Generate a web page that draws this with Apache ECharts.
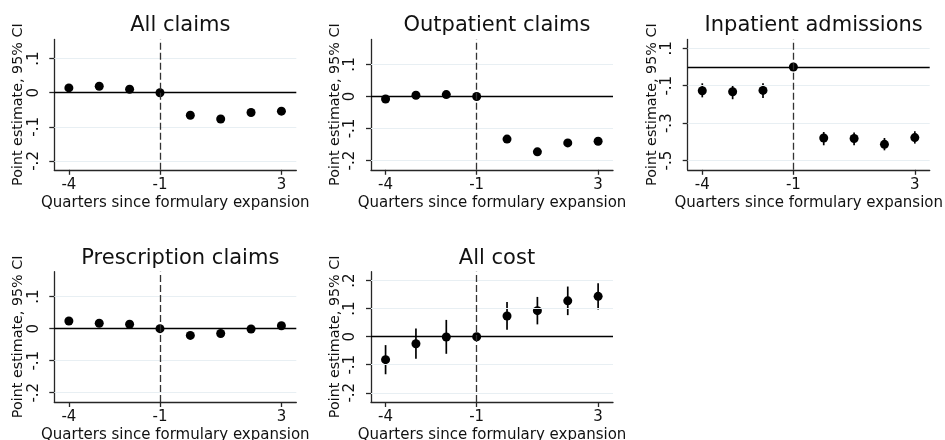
<!DOCTYPE html>
<html>
<head>
<meta charset="utf-8">
<script src="https://cdn.jsdelivr.net/npm/echarts@6/dist/echarts.min.js"></script>
<style>
  html, body { margin: 0; padding: 0; background: #fff; }
  #chart { width: 945px; height: 440px; }
</style>
</head>
<body>
<div id="chart"></div>
<script>
// Event-study estimates by quarter relative to the formulary expansion
const quarters = [-4, -3, -2, -1, 0, 1, 2, 3];
const xTickValues = [-4, -1, 3];

// All claims
const allClaimsEst = [0.014, 0.019, 0.010, 0, -0.066, -0.077, -0.058, -0.054];
const allClaimsLo  = [0.008, 0.013, 0.004, 0, -0.072, -0.083, -0.064, -0.060];
const allClaimsHi  = [0.020, 0.025, 0.016, 0, -0.060, -0.071, -0.052, -0.048];

// Outpatient claims
const outpatientEst = [-0.008, 0.004, 0.006, 0, -0.133, -0.173, -0.145, -0.140];
const outpatientLo  = [-0.017, -0.005, -0.004, 0, -0.142, -0.182, -0.154, -0.149];
const outpatientHi  = [0.001, 0.013, 0.016, 0, -0.124, -0.164, -0.136, -0.131];

// Inpatient admissions
const inpatientEst = [-0.127, -0.132, -0.125, 0, -0.379, -0.382, -0.413, -0.377];
const inpatientLo  = [-0.162, -0.172, -0.166, 0, -0.418, -0.418, -0.445, -0.409];
const inpatientHi  = [-0.087, -0.096, -0.087, 0, -0.347, -0.350, -0.379, -0.343];

// Prescription claims
const prescriptionEst = [0.024, 0.017, 0.014, 0, -0.021, -0.015, -0.001, 0.009];
const prescriptionLo  = [0.018, 0.011, 0.008, 0, -0.027, -0.021, -0.007, 0.003];
const prescriptionHi  = [0.030, 0.023, 0.020, 0, -0.015, -0.009, 0.005, 0.015];

// All cost
const allCostEst = [-0.082, -0.025, -0.001, 0, 0.074, 0.093, 0.128, 0.144];
const allCostLo  = [-0.134, -0.079, -0.061, -0.015, 0.025, 0.044, 0.077, 0.097];
const allCostHi  = [-0.030, 0.029, 0.060, 0.002, 0.124, 0.142, 0.179, 0.191];

// y-axis ticks and their labels per panel
const ticksClaims = [-0.2, -0.1, 0, 0.1];
const ticksClaimsText = ['-.2', '-.1', '0', '.1'];
const ticksInpatient = [-0.5, -0.3, -0.1, 0.1];
const ticksInpatientText = ['-.5', '-.3', '-.1', '.1'];
const ticksCost = [-0.2, -0.1, 0, 0.1, 0.2];
const ticksCostText = ['-.2', '-.1', '0', '.1', '.2'];

const titles = ['All claims', 'Outpatient claims', 'Inpatient admissions', 'Prescription claims', 'All cost'];

const FONT = 'DejaVu Sans';
const colLeft = [54.3, 371, 687.7];
const rowTop = [39.5, 271.7];
const plotW = 242;
const plotH = 130.3;

const panels = [
  { title: titles[0], est: allClaimsEst, lo: allClaimsLo, hi: allClaimsHi, ticks: ticksClaims, tickText: ticksClaimsText, min: -0.226, max: 0.156, col: 0, row: 0 },
  { title: titles[1], est: outpatientEst, lo: outpatientLo, hi: outpatientHi, ticks: ticksClaims, tickText: ticksClaimsText, min: -0.229, max: 0.178, col: 1, row: 0 },
  { title: titles[2], est: inpatientEst, lo: inpatientLo, hi: inpatientHi, ticks: ticksInpatient, tickText: ticksInpatientText, min: -0.549, max: 0.147, col: 2, row: 0 },
  { title: titles[3], est: prescriptionEst, lo: prescriptionLo, hi: prescriptionHi, ticks: ticksClaims, tickText: ticksClaimsText, min: -0.229, max: 0.178, col: 0, row: 1 },
  { title: titles[4], est: allCostEst, lo: allCostLo, hi: allCostHi, ticks: ticksCost, tickText: ticksCostText, min: -0.233, max: 0.232, col: 1, row: 1 }
];

const option = {
  animation: false,
  backgroundColor: '#ffffff',
  textStyle: { fontFamily: FONT },
  title: [], grid: [], xAxis: [], yAxis: [], series: []
};

const axisColor = '#262626';
const gridColor = '#e8eff3';

panels.forEach((p, i) => {
  const left = colLeft[p.col];
  const top = rowTop[p.row];
  option.title.push({
    text: p.title,
    left: left + plotW / 2,
    top: top - 29,
    textAlign: 'center',
    textStyle: { fontFamily: FONT, fontSize: 21, fontWeight: 'normal', color: '#111' }
  });
  option.grid.push({ left: left, top: top, width: plotW, height: plotH, containLabel: false, outerBoundsMode: 'none' });
  option.xAxis.push({
    type: 'value', gridIndex: i, min: -4.48, max: 3.49,
    name: 'Quarters since formulary expansion',
    nameLocation: 'middle', nameGap: 26,
    nameTextStyle: { fontFamily: FONT, fontSize: 15, color: '#111' },
    axisLine: { onZero: false, lineStyle: { color: axisColor, width: 1.3 } },
    axisTick: { customValues: xTickValues, length: 5, lineStyle: { color: axisColor, width: 1.3 } },
    axisLabel: { customValues: xTickValues, margin: 8, fontFamily: FONT, fontSize: 15, color: '#111',
      formatter: v => String(v) },
    splitLine: { show: false }
  });
  option.yAxis.push({
    type: 'value', gridIndex: i, min: p.min, max: p.max,
    name: 'Point estimate, 95% CI',
    nameLocation: 'middle', nameGap: 25, nameRotate: 90,
    nameTextStyle: { fontFamily: FONT, fontSize: 14.3, color: '#111' },
    axisLine: { show: true, onZero: false, lineStyle: { color: axisColor, width: 1.3 } },
    axisTick: { show: true, customValues: p.ticks, length: 5, lineStyle: { color: axisColor, width: 1.3 } },
    axisLabel: { customValues: p.ticks, rotate: 90, margin: 13, fontFamily: FONT, fontSize: 15, color: '#111',
      formatter: v => {
        const k = p.ticks.findIndex(t => Math.abs(t - v) < 1e-9);
        return k >= 0 ? p.tickText[k] : '';
      } },
    splitLine: { show: false }
  });
  // horizontal grid lines at labelled ticks
  option.series.push({
    type: 'line', xAxisIndex: i, yAxisIndex: i, data: [], z: 1, silent: true,
    markLine: {
      silent: true, symbol: 'none', label: { show: false }, animation: false,
      lineStyle: { color: gridColor, width: 1.2, type: 'solid' },
      data: p.ticks.filter(t => t !== 0).map(t => ({ yAxis: t }))
    }
  });
  // zero line and the dashed marker at the last pre-period quarter
  option.series.push({
    type: 'line', xAxisIndex: i, yAxisIndex: i, data: [], z: 2, silent: true,
    markLine: {
      silent: true, symbol: 'none', label: { show: false }, animation: false,
      data: [
        { yAxis: 0, lineStyle: { color: '#000', width: 1.3, type: 'solid' } },
        { xAxis: -1, lineStyle: { color: '#333', width: 1.3, type: [7, 3] } }
      ]
    }
  });
  // 95% confidence intervals
  option.series.push({
    type: 'custom', xAxisIndex: i, yAxisIndex: i, z: 3, silent: true,
    data: quarters.map((q, k) => [q, p.lo[k], p.hi[k]]),
    encode: { x: 0, y: [1, 2] },
    renderItem: (params, api) => {
      const a = api.coord([api.value(0), api.value(1)]);
      const b = api.coord([api.value(0), api.value(2)]);
      return { type: 'line', shape: { x1: a[0], y1: a[1], x2: b[0], y2: b[1] },
        style: { stroke: '#000', lineWidth: 1.7 } };
    }
  });
  // point estimates
  option.series.push({
    type: 'scatter', xAxisIndex: i, yAxisIndex: i, z: 4, silent: true,
    symbol: 'circle', symbolSize: 9,
    itemStyle: { color: '#000', opacity: 1 },
    data: quarters.map((q, k) => [q, p.est[k]])
  });
});

const chart = echarts.init(document.getElementById('chart'), null, { renderer: 'canvas' });
chart.setOption(option);
</script>
</body>
</html>
